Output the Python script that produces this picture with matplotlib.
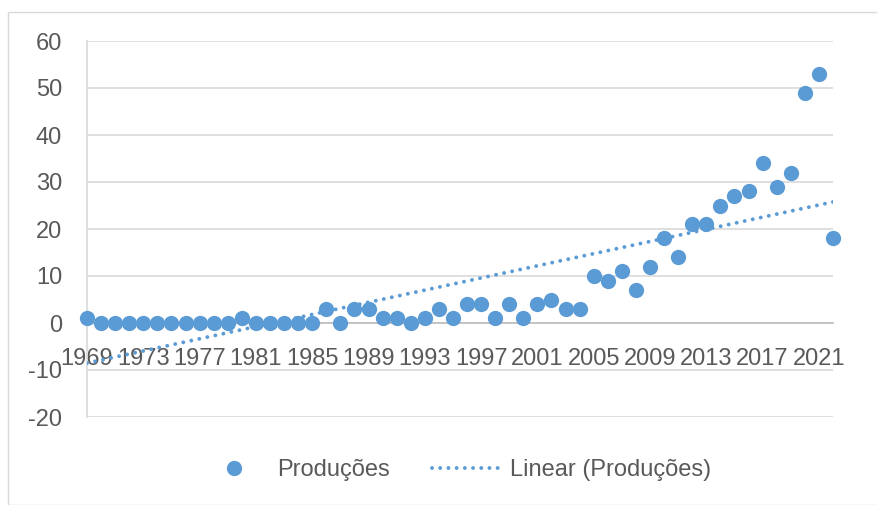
import numpy as np
import matplotlib.pyplot as plt
from matplotlib.patches import Rectangle

# dados
anos = list(range(1969, 2023))
producoes = [1, 0, 0, 0, 0, 0, 0, 0, 0, 0, 0, 1, 0, 0, 0, 0, 0,
             3, 0, 3, 3, 1, 1, 0, 1, 3, 1, 4, 4, 1, 4, 1, 4, 5, 3, 3,
             10, 9, 11, 7, 12, 18, 14, 21, 21, 25, 27, 28, 34, 29, 32, 49, 53, 18]
yticks = [-20, -10, 0, 10, 20, 30, 40, 50, 60]
xticks = list(range(1969, 2022, 4))

azul = '#5B9BD5'
cinza = '#595959'

plt.rcParams['font.family'] = ['Liberation Sans', 'DejaVu Sans']
plt.rcParams['axes.unicode_minus'] = False

fig = plt.figure(figsize=(8.77, 5.05), dpi=100)
# moldura do gráfico
fig.patches.append(Rectangle((8/877, 0), 1, 1 - 12/505, transform=fig.transFigure,
                             fill=False, edgecolor='#d9d9d9', linewidth=1))
ax = fig.add_axes([87/877, 1 - 417/505, (833-87)/877, (417-41)/505])

x = np.array(anos)
y = np.array(producoes)
# linha de tendência linear (como no Excel)
a, b = np.polyfit(x, y, 1)
ax.plot(x, a*x + b, color=azul, linewidth=2.8, linestyle=(0, (0.01, 2.1)),
        dash_capstyle='round', label='Linear (Produções)', zorder=3)
ax.plot(x, y, 'o', color=azul, markersize=11, markeredgewidth=0,
        label='Produções', clip_on=False, zorder=4)

ax.set_xlim(1969, 2022)
ax.set_ylim(-20, 60)
ax.set_yticks(yticks)
ax.set_xticks(xticks)
ax.grid(axis='y', color='#d9d9d9', linewidth=1.2)
ax.set_axisbelow(True)

for s in ['top', 'right']:
    ax.spines[s].set_visible(False)
ax.spines['bottom'].set_position(('data', 0))
ax.spines['bottom'].set_color('#bfbfbf')
ax.spines['left'].set_color('#d9d9d9')
ax.spines['bottom'].set_linewidth(1.2)
ax.spines['left'].set_linewidth(1.2)

ax.tick_params(axis='y', length=0, pad=18, labelsize=17, labelcolor=cinza)
ax.tick_params(axis='x', length=0, pad=18, labelsize=17, labelcolor=cinza)

h, l = ax.get_legend_handles_labels()
fig.legend(h[::-1], l[::-1], loc='center', bbox_to_anchor=(455/877, 1 - 470/505),
           ncol=2, frameon=False, fontsize=17, labelcolor=cinza,
           handlelength=3.0, handletextpad=0.3, columnspacing=1.8)

fig.savefig('out.png', dpi=100)
